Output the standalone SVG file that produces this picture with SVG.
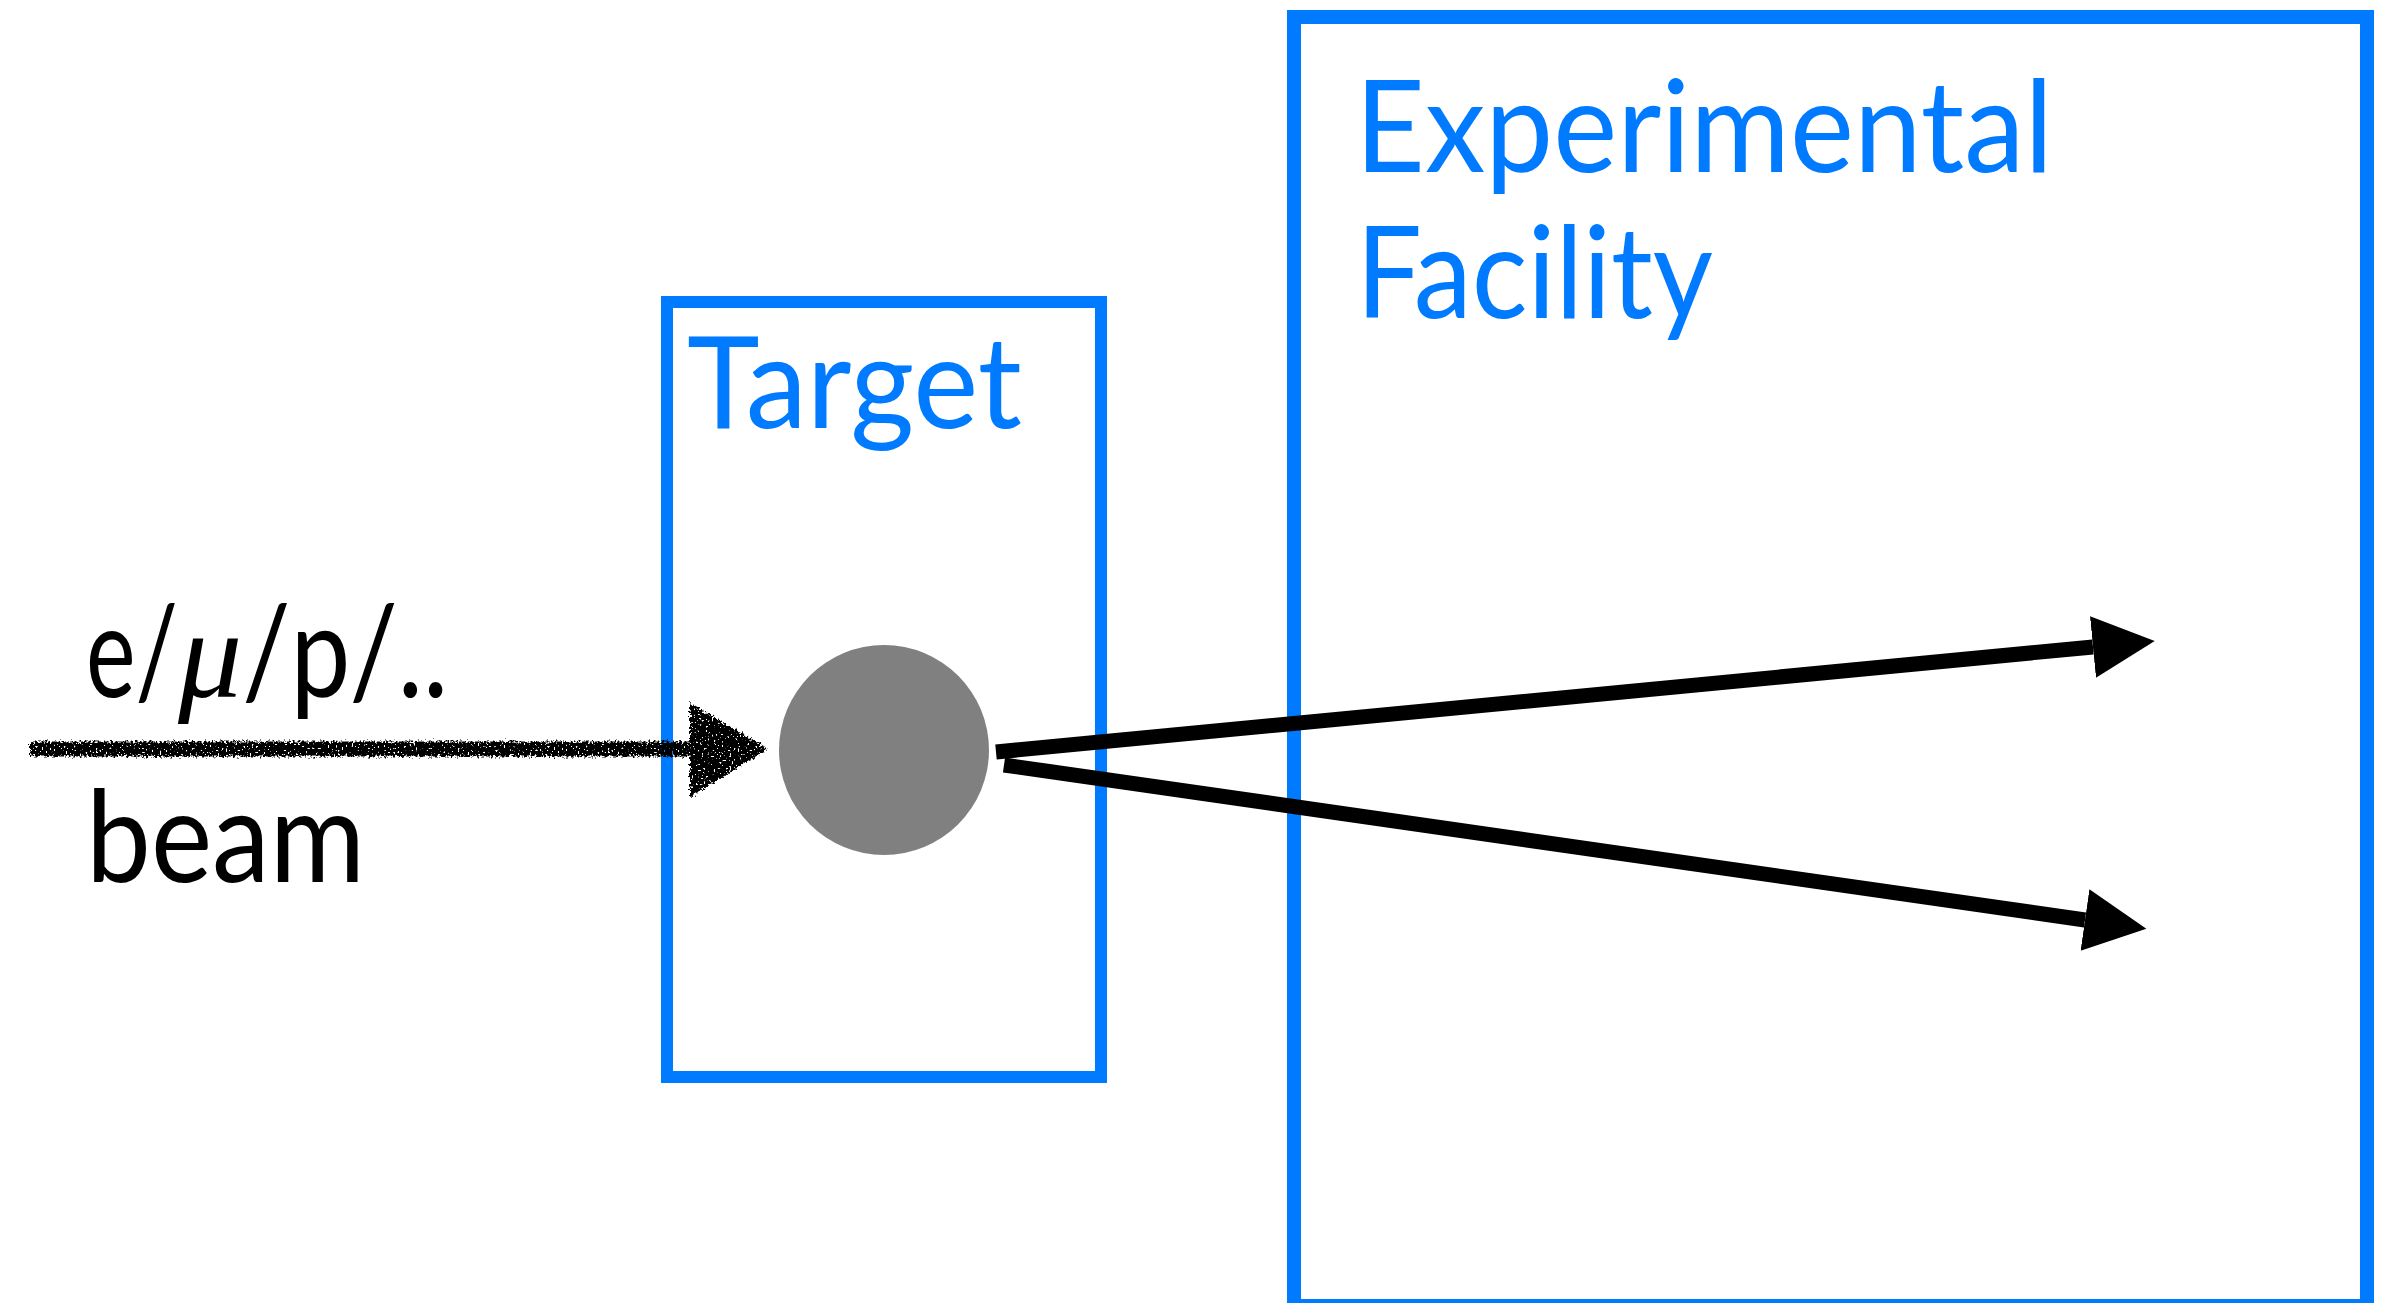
<svg xmlns="http://www.w3.org/2000/svg" width="2387" height="1303" viewBox="0 0 2387 1303">
  <style>
    .box { fill: none; stroke: #007AFF; }
    .blue { fill: #007AFF; font-family: Lato, "Open Sans", "Liberation Sans", sans-serif; font-size: 128px; }
    .black { fill: #000000; font-family: Lato, "Open Sans", "Liberation Sans", sans-serif; font-size: 128px; }
    .mu { font-family: "Liberation Serif", "DejaVu Serif", serif; font-style: italic; }
    .track { fill: none; stroke: #000000; stroke-width: 15; stroke-linecap: butt; }
  </style>
  <defs>
    <marker id="head" markerUnits="userSpaceOnUse" markerWidth="64" markerHeight="64" refX="0" refY="31" orient="auto" viewBox="0 0 64 64">
      <path d="M0,0 L62,31 L0,62 Z" fill="#000000"/>
    </marker>
    <!-- chalky, lightly speckled stroke for the incoming beam -->
    <filter id="rough" x="-5%" y="-60%" width="110%" height="220%">
      <feTurbulence type="fractalNoise" baseFrequency="0.45" numOctaves="2" seed="7" result="noise"/>
      <feDisplacementMap in="SourceGraphic" in2="noise" scale="8" xChannelSelector="R" yChannelSelector="G" result="shaken"/>
      <feTurbulence type="fractalNoise" baseFrequency="0.5" numOctaves="1" seed="3" result="grain"/>
      <feColorMatrix in="grain" type="matrix" values="0 0 0 0 0  0 0 0 0 0  0 0 0 0 0  16 0 0 0 -4.6" result="mask"/>
      <feComposite in="shaken" in2="mask" operator="in"/>
    </filter>
  </defs>

  <rect width="2387" height="1303" fill="#FFFFFF"/>

  <g id="facility">
    <rect class="box" x="1294" y="17" width="1073" height="1289" stroke-width="14"/>
    <text class="blue" x="1355" y="172" textLength="698" lengthAdjust="spacingAndGlyphs">Experimental</text>
    <text class="blue" x="1356" y="318" textLength="357" lengthAdjust="spacingAndGlyphs">Facility</text>
  </g>

  <g id="target">
    <rect class="box" x="667" y="302" width="434" height="775" stroke-width="12"/>
    <text class="blue" x="687" y="428" textLength="335" lengthAdjust="spacingAndGlyphs">Target</text>
    <circle cx="884" cy="750" r="105" fill="#808080"/>
  </g>

  <g id="beam-label">
    <text class="black" x="86" y="697"><tspan textLength="92" lengthAdjust="spacingAndGlyphs">e/</tspan><tspan class="mu">μ</tspan><tspan textLength="206" lengthAdjust="spacingAndGlyphs">/p/..</tspan></text>
    <text class="black" x="86" y="882" textLength="279" lengthAdjust="spacingAndGlyphs">beam</text>
  </g>

  <g id="connectors">
    <g id="beam" filter="url(#rough)">
      <line x1="30" y1="749" x2="696" y2="749" stroke="#000000" stroke-width="15"/>
      <polygon points="690,703 768,749 690,797" fill="#000000"/>
    </g>
    <line class="track" x1="996" y1="752" x2="2093" y2="647" marker-end="url(#head)"/>
    <line class="track" x1="1004" y1="765" x2="2085" y2="920" marker-end="url(#head)"/>
  </g>
</svg>
